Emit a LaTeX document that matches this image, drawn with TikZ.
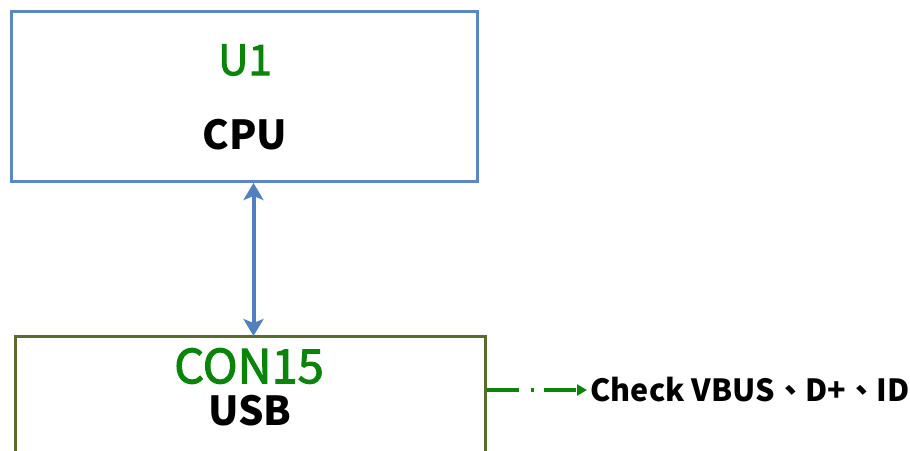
\documentclass[tikz,border=0pt]{standalone}
\usepackage{fontspec}
\setmainfont{Noto Sans CJK TC}
\newfontfamily\medfont[FakeBold=2.2]{Noto Sans CJK TC}
\usetikzlibrary{arrows.meta}
\definecolor{boxblue}{HTML}{5B87C5}
\definecolor{arrblue}{HTML}{5080BE}
\definecolor{boxolive}{HTML}{5A6B2E}
\definecolor{labgreen}{HTML}{0A850A}

\begin{document}
\begin{tikzpicture}[x=1pt,y=-1pt,
    block/.style={draw,line width=3pt,minimum width=#1,anchor=north west,inner sep=0pt},
    reflab/.style={text=labgreen,font=\medfont\fontsize{#1}{44}\selectfont},
    partlab/.style={text=black,font=\bfseries\fontsize{40}{44}\selectfont}]
\useasboundingbox (0,0) rectangle (910,450);
\clip (0,0) rectangle (910,450);
\node[block=466pt,minimum height=170pt,draw=boxblue] (cpu) at (10,10) {};
\node[block=470pt,minimum height=160pt,draw=boxolive] (usb) at (14,335) {};
\node[reflab=42] (u1) at (245,60) {U1};
\node[partlab] (cpulab) at (245,135) {CPU};
\node[reflab=47] (con) at (249,366) {CON15};
\node[partlab] (usblab) at (250,411) {USB};
% bus between the two blocks
\draw[arrblue,line width=4pt,{Stealth[length=17pt,width=20pt,inset=4pt]}-{Stealth[length=17pt,width=20pt,inset=4pt]}]
    ([xshift=9pt]cpu.south) -- ([xshift=3pt,yshift=-1pt]usb.north);
\node[anchor=west,text=black,font=\bfseries\fontsize{30.5}{33}\selectfont] (note) at (587,390) {Check VBUS、D+、ID};
\draw[labgreen,line width=3.5pt,dash pattern=on 32pt off 12pt on 3pt off 10pt,-{Triangle[length=10pt,width=11pt]}]
    (usb.east |- note.west) -- (note.west);
\end{tikzpicture}
\end{document}
